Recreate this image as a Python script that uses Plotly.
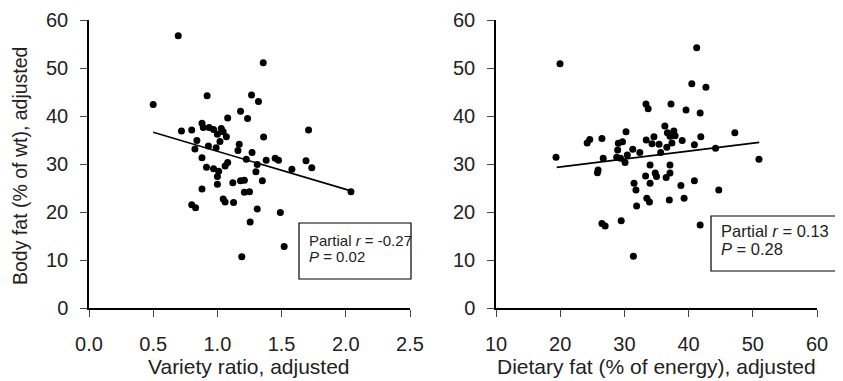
import plotly.graph_objects as go

# Left panel: variety ratio vs body fat
variety_x = [0.50, 1.32, 1.18, 1.235, 1.08, 0.72, 0.80, 0.88, 0.89, 0.936, 0.97, 1.03, 1.045, 1.00,
             1.07, 1.02, 0.84, 0.825, 0.93, 0.99, 1.17, 1.16, 1.36, 1.27, 1.225, 0.88, 0.915, 0.97,
             1.01, 1.00, 1.08, 1.06, 1.31, 1.30, 1.35, 1.38, 1.45, 1.476, 1.58, 1.69, 1.71, 1.00,
             1.12, 1.18, 1.21, 0.88, 1.21, 1.25, 0.80, 0.83, 1.045, 1.06, 1.126, 1.31, 1.49, 1.255,
             1.52, 1.19, 0.695, 1.357, 1.266, 0.92, 1.735, 2.04]
variety_y = [42.4, 43.0, 41.0, 39.5, 39.6, 36.9, 37.1, 38.5, 37.6, 37.6, 37.2, 37.4, 36.7, 36.2,
             35.7, 34.7, 34.9, 33.1, 33.75, 33.4, 34.1, 32.8, 35.6, 32.4, 31.0, 31.3, 29.3, 29.0,
             28.5, 27.4, 30.3, 29.6, 29.9, 28.4, 26.5, 30.8, 31.2, 30.8, 28.9, 30.7, 37.1, 25.8,
             26.1, 26.5, 26.6, 24.8, 24.1, 24.2, 21.5, 20.9, 22.7, 22.1, 22.0, 20.6, 19.9, 17.9,
             12.8, 10.7, 56.7, 51.1, 44.4, 44.2, 29.2, 24.2]
variety_line_x = [0.50, 2.04]
variety_line_y = [36.6, 24.4]

# Right panel: dietary fat vs body fat
fat_x = [33.36, 33.7, 37.26, 39.6, 41.8, 47.2, 36.3, 36.7, 37.7, 37.1, 37.9, 34.6, 33.4, 34.3,
         35.4, 37.4, 39.0, 36.6, 35.65, 40.9, 41.9, 44.2, 50.96, 30.25, 26.5, 24.6, 29.7, 29.05,
         28.95, 31.3, 32.4, 30.45, 26.7, 28.8, 29.4, 30.1, 25.9, 25.8, 34.0, 37.1, 33.3, 34.8,
         35.0, 36.5, 37.1, 34.0, 31.5, 31.8, 38.8, 40.9, 44.7, 33.5, 33.9, 31.9, 37.0, 39.3,
         26.5, 27.0, 29.5, 41.8, 31.4, 19.97, 19.35, 24.2, 41.26, 40.5, 42.7]
fat_y = [42.5, 41.5, 42.5, 41.25, 40.6, 36.5, 37.9, 36.5, 36.9, 35.8, 35.9, 35.7, 35.0, 34.2,
         34.1, 34.4, 34.9, 33.5, 32.4, 34.0, 35.7, 33.3, 31.0, 36.7, 35.3, 35.1, 34.65, 34.3,
         32.9, 33.05, 32.4, 31.9, 31.2, 31.4, 31.2, 30.3, 28.75, 28.2, 29.8, 29.8, 27.5, 28.1,
         27.4, 27.2, 28.1, 26.0, 26.0, 24.6, 25.5, 26.5, 24.6, 22.85, 22.1, 21.25, 22.5, 22.85,
         17.6, 17.1, 18.2, 17.3, 10.8, 50.9, 31.4, 34.4, 54.2, 46.7, 46.0]
fat_line_x = [19.45, 51.0]
fat_line_y = [29.3, 34.5]

left_ticks = [0.0, 0.5, 1.0, 1.5, 2.0, 2.5]
right_ticks = [10, 20, 30, 40, 50, 60]
y_ticks = [0, 10, 20, 30, 40, 50, 60]

left_title = "Variety ratio, adjusted"
right_title = "Dietary fat (% of energy), adjusted"
y_title = "Body fat (% of wt), adjusted"
left_stats = ["Partial <i>r</i> = -0.27", "<i>P</i> = 0.02"]
right_stats = ["Partial <i>r</i> = 0.13", "<i>P</i> = 0.28"]

W, H = 843, 381
OFF = 8  # page body margin
FONT = "Liberation Sans, Arial, sans-serif"
TXT = "#222222"

fig = go.Figure()
mk = dict(color="black", size=7)
fig.add_trace(go.Scatter(x=variety_x, y=variety_y, mode="markers", marker=mk, xaxis="x", yaxis="y"))
fig.add_trace(go.Scatter(x=variety_line_x, y=variety_line_y, mode="lines",
                         line=dict(color="black", width=1.6), xaxis="x", yaxis="y"))
fig.add_trace(go.Scatter(x=fat_x, y=fat_y, mode="markers", marker=mk, xaxis="x2", yaxis="y2"))
fig.add_trace(go.Scatter(x=fat_line_x, y=fat_line_y, mode="lines",
                         line=dict(color="black", width=1.6), xaxis="x2", yaxis="y2"))


def px_x(p):
    return (p - OFF) / W


def px_y(p):
    return 1 - (p - OFF) / H


axis_common = dict(showline=True, linecolor="black", linewidth=1.5, ticks="outside",
                   ticklen=7, tickwidth=1.2, tickcolor="#444444", showgrid=False, zeroline=False,
                   tickfont=dict(family=FONT, size=20, color=TXT), mirror=False, automargin=False)

fig.update_layout(
    width=W, height=H, margin=dict(l=0, r=0, t=0, b=0, autoexpand=False),
    plot_bgcolor="white", paper_bgcolor="white", showlegend=False,
    xaxis=dict(domain=[px_x(89), px_x(410)], range=[0, 2.5], tickvals=left_ticks,
               tickformat=".1f", anchor="y", ticklabelstandoff=10, **axis_common),
    yaxis=dict(domain=[px_y(308), px_y(20)], range=[0, 60], tickvals=y_ticks, anchor="x",
               ticklabelstandoff=8, **axis_common),
    xaxis2=dict(domain=[px_x(496), px_x(817)], range=[10, 60], tickvals=right_ticks, anchor="y2",
                ticklabelstandoff=10, **axis_common),
    yaxis2=dict(domain=[px_y(308), px_y(20)], range=[0, 60], tickvals=y_ticks, anchor="x2",
                ticklabelstandoff=8, **axis_common),
)

# axis titles as paper annotations
tfont = dict(family=FONT, size=21, color=TXT)
fig.add_annotation(xref="paper", yref="paper", x=px_x(249), y=px_y(366), text=left_title,
                   showarrow=False, xanchor="center", yanchor="middle", font=tfont)
fig.add_annotation(xref="paper", yref="paper", x=px_x(656), y=px_y(366), text=right_title,
                   showarrow=False, xanchor="center", yanchor="middle", font=tfont)
fig.add_annotation(xref="paper", yref="paper", x=px_x(20), y=px_y(166), text=y_title,
                   showarrow=False, xanchor="center", yanchor="middle", textangle=-90,
                   font=dict(family=FONT, size=19.5, color=TXT))

# stat boxes
boxes = [((299, 223, 411, 279), left_stats, (307, 240, 257), 15),
         ((711, 216, 838, 271), right_stats, (719, 231, 249), 16.5)]
for (x0, y0, x1, y1), lines, (tx, ly1, ly2), fs in boxes:
    fig.add_shape(type="rect", xref="paper", yref="paper",
                  x0=px_x(x0), x1=px_x(x1), y0=px_y(y1), y1=px_y(y0),
                  line=dict(color="black", width=1.2), fillcolor="white", layer="above")
    for txt, ly in zip(lines, (ly1, ly2)):
        fig.add_annotation(xref="paper", yref="paper", x=px_x(tx), y=px_y(ly), text=txt,
                           showarrow=False, xanchor="left", yanchor="middle",
                           font=dict(family=FONT, size=fs, color=TXT))

fig.write_html("out.html")
